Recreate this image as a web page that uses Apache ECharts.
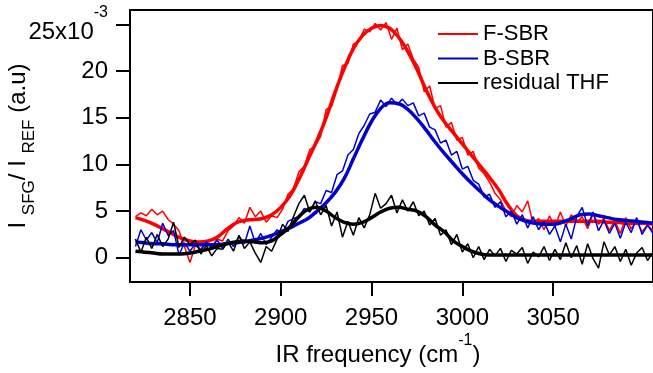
<!DOCTYPE html>
<html><head><meta charset="utf-8">
<script src="https://cdn.jsdelivr.net/npm/echarts@6/dist/echarts.min.js"></script>
<style>html,body{margin:0;padding:0;background:#fff}#c{width:653px;height:373px}</style>
</head><body><div id="c"></div>
<script>
const rawX = [2820,2823,2826,2829,2832,2835,2838,2841,2844,2847,
2850,2853,2856,2859,2862,2865,2868,2871,2874,2877,
2880,2883,2886,2889,2892,2895,2898,2901,2904,2907,
2910,2913,2916,2919,2922,2925,2928,2931,2934,2937,
2940,2943,2946,2949,2952,2955,2958,2961,2964,2967,
2970,2973,2976,2979,2982,2985,2988,2991,2994,2997,
3000,3003,3006,3009,3012,3015,3018,3021,3024,3027,
3030,3033,3036,3039,3042,3045,3048,3051,3054,3057,
3060,3063,3066,3069,3072,3075,3078,3081,3084,3087,
3090,3093,3096,3099,3102,3105];
const fRaw = [4.4,4.8,4.5,5.2,4.6,5.0,4.1,3.6,2.9,1.2,
-0.5,1.3,0.9,1.6,1.2,2.0,1.8,2.9,3.4,4.3,
3.7,5.4,4.4,5.0,3.8,4.5,4.3,5.2,6.8,7.4,
9.2,9.8,11.6,12.0,13.0,15.9,16.2,18.0,20.6,20.8,
22.9,23.2,24.5,24.2,25.1,24.4,25.2,23.4,24.6,22.3,
22.9,21.3,20.4,17.8,18.4,16.0,16.3,14.0,14.5,12.6,
12.9,11.0,11.4,9.6,9.0,8.1,6.9,6.2,5.0,4.4,
5.6,4.9,6.1,3.6,4.2,3.0,4.5,3.3,4.9,3.4,
4.6,3.8,4.4,3.1,4.7,3.6,4.2,2.9,4.0,2.6,
4.3,3.1,3.9,2.8,3.5,2.9];
const bRaw = [1.2,3.0,1.9,2.7,1.6,3.7,2.4,2.9,0.3,1.6,
0.7,1.5,0.8,1.7,1.1,1.9,1.0,2.0,1.2,2.3,
1.5,3.4,1.6,2.6,1.4,2.2,3.0,2.6,3.9,4.2,
4.4,5.3,4.9,6.0,5.8,7.2,7.0,8.9,9.3,11.0,
11.6,13.3,14.2,15.4,15.6,16.9,16.2,17.1,16.4,17.0,
16.3,16.6,15.2,15.5,14.0,13.7,12.3,12.6,11.0,11.4,
9.5,9.8,8.3,7.9,6.5,6.8,5.4,6.0,4.4,5.0,
3.6,4.6,3.2,4.4,3.0,3.9,2.5,3.4,1.7,3.6,
2.0,4.4,5.4,3.4,4.9,2.9,4.0,2.6,3.7,2.1,
3.8,2.7,4.3,2.5,3.5,2.6];
const tRaw = [2.0,0.6,2.2,1.0,2.5,1.2,2.0,3.8,1.1,2.2,
1.4,1.9,0.4,1.3,0.2,1.0,0.9,1.7,0.7,2.4,
1.0,1.7,0.5,-0.5,1.2,0.7,2.0,3.6,2.8,4.4,
5.8,6.7,4.9,6.1,4.6,5.6,3.4,4.9,2.2,3.9,
2.4,4.3,3.2,4.6,6.9,5.3,5.8,6.7,4.8,6.2,
5.0,6.0,4.5,5.0,3.5,4.2,2.4,3.0,1.4,2.5,
0.6,1.5,0.0,1.2,-0.2,0.9,0.2,1.0,-0.4,0.8,
0.4,1.1,-0.6,0.6,0.1,1.2,-0.3,0.9,-0.2,1.6,
0.0,1.3,-0.7,1.5,-0.1,-1.1,1.7,0.3,1.2,-0.4,
0.9,-0.8,0.5,1.1,-0.3,0.6];
const fitX = [2820,2825,2830,2835,2840,2845,2850,2855,2860,2865,
2870,2875,2880,2885,2890,2895,2900,2905,2910,2915,
2920,2925,2930,2935,2940,2945,2950,2955,2960,2965,
2970,2975,2980,2985,2990,2995,3000,3005,3010,3015,
3020,3025,3030,3035,3040,3045,3050,3055,3060,3065,
3070,3075,3080,3085,3090,3095,3100,3105];
const fFit = [4.3,4.0,3.6,3.1,2.6,2.1,1.8,1.7,1.8,2.2,
3.0,3.7,4.0,4.1,4.2,4.6,5.4,6.6,8.4,10.5,
12.6,15.0,17.8,20.3,22.4,23.8,24.6,24.9,24.6,23.6,
22.1,20.2,18.0,16.1,14.6,13.4,12.2,11.0,9.8,8.6,
7.3,5.7,4.5,4.0,3.9,3.9,3.9,3.9,3.9,3.9,
3.9,3.9,3.8,3.8,3.7,3.7,3.7,3.6];
const bFit = [1.7,1.6,1.5,1.5,1.4,1.4,1.4,1.4,1.4,1.4,
1.5,1.6,1.7,1.9,2.1,2.4,2.8,3.2,3.7,4.2,
5.0,5.9,7.0,8.5,10.6,12.7,14.6,16.0,16.6,16.5,
15.9,14.9,13.7,12.4,11.2,10.1,9.0,8.0,7.1,6.2,
5.5,4.9,4.3,3.9,3.7,3.6,3.6,3.8,4.2,4.6,
4.7,4.5,4.3,4.1,4.0,3.9,3.8,3.7];
const tFit = [0.7,0.6,0.5,0.4,0.4,0.4,0.5,0.7,0.9,1.2,
1.5,1.7,1.8,1.7,1.6,1.8,2.5,3.3,4.4,5.2,
5.4,5.0,4.3,3.8,3.6,3.8,4.3,4.9,5.3,5.4,
5.2,5.0,4.4,3.5,2.8,1.8,1.2,0.7,0.4,0.3,
0.3,0.3,0.3,0.3,0.3,0.3,0.3,0.3,0.3,0.3,
0.3,0.3,0.3,0.3,0.3,0.3,0.3,0.3];
const xTicks = [2850,2900,2950,3000,3050];
const yTicks = [0,5,10,15,20,25];
const names = ['F-SBR','B-SBR','residual THF'];
const colors = ['#ff0000','#0000cc','#000000'];

const font = 'Liberation Sans';
function pairs(xs, ys){ return xs.map((x,i)=>[x, ys[i]]); }
const raws = [fRaw,bRaw,tRaw], fits = [fFit,bFit,tFit];
const series = [];
for (let k=0;k<3;k++){
  series.push({name:names[k]+' data', type:'line', data:pairs(rawX, raws[k]), showSymbol:false, symbol:'none',
    lineStyle:{color:colors[k], width:1.5}, itemStyle:{color:colors[k]}, z:2+k*2, silent:true});
  series.push({name:names[k], type:'line', data:pairs(fitX, fits[k]), smooth:0.4, showSymbol:false, symbol:'none',
    lineStyle:{color:colors[k], width:3.5}, itemStyle:{color:colors[k]}, z:3+k*2, silent:true});
}
const chart = echarts.init(document.getElementById('c'), null, {renderer:'canvas'});
chart.setOption({
  animation:false,
  backgroundColor:'#fff',
  textStyle:{fontFamily:font},
  grid:{left:130, right:0, top:10, bottom:91, show:true, borderColor:'#000', borderWidth:2, outerBoundsMode:'none', containLabel:false},
  legend:{orient:'vertical', left:433, top:17, itemWidth:40, itemHeight:2, itemGap:0.5, icon:'rect', data:names, selectedMode:false,
    textStyle:{fontSize:22, fontFamily:font, color:'#000', lineHeight:24}},
  xAxis:{type:'value', min:2817, max:3105,
    axisLine:{show:true, onZero:false, lineStyle:{color:'#000', width:2}},
    axisTick:{show:true, length:14, lineStyle:{color:'#000', width:2}, customValues:xTicks},
    axisLabel:{customValues:xTicks, margin:24, fontSize:24, color:'#000', fontFamily:font,
      formatter:function(v){ return String(v); }},
    splitLine:{show:false},
    name:'{a|IR frequency (cm}{sup|-1}{a|)}', nameLocation:'middle', nameGap:51, nameMoveOverlap:false,
    nameTextStyle:{padding:[0,27,0,0], rich:{a:{fontSize:24, fontFamily:font, color:'#000', padding:[10,0,0,0]}, sup:{fontSize:16, fontFamily:font, color:'#000', verticalAlign:'top'}}}
  },
  yAxis:{type:'value', min:-2.6, max:26.55,
    axisLine:{show:true, onZero:false, lineStyle:{color:'#000', width:2}},
    axisTick:{show:true, length:14, lineStyle:{color:'#000', width:2}, customValues:yTicks},
    axisLabel:{customValues:yTicks, margin:22, fontSize:24, color:'#000', fontFamily:font,
      formatter:function(v){ return v===25 ? '{m|25x10}{sup|-3}' : '{n|'+v+'}'; },
      rich:{m:{fontSize:24, fontFamily:font, color:'#000', padding:[16,0,0,0]}, n:{fontSize:24, fontFamily:font, color:'#000'}, sup:{fontSize:16, fontFamily:font, color:'#000', verticalAlign:'top'}}},
    splitLine:{show:false},
    name:'{a|I }{s|SFG}{a|/ I }{s|REF}{a| (a.u)}', nameLocation:'middle', nameGap:92, nameRotate:90, nameMoveOverlap:false,
    nameTextStyle:{rich:{a:{fontSize:24, fontFamily:font, color:'#000', padding:[0,0,8,0], verticalAlign:'top'}, s:{fontSize:17, fontFamily:font, color:'#000', verticalAlign:'bottom'}}}
  },
  series:series
});
</script></body></html>
